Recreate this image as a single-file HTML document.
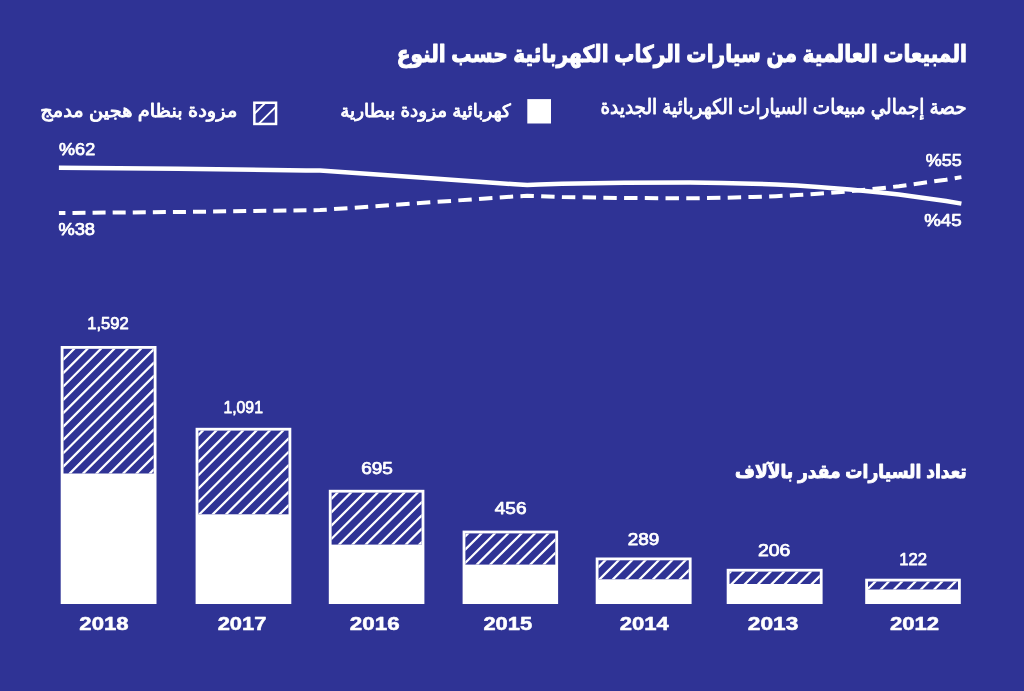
<!DOCTYPE html>
<html lang="ar">
<head>
<meta charset="utf-8">
<title>المبيعات العالمية من سيارات الركاب الكهربائية حسب النوع</title>
<style>
html,body{margin:0;padding:0;background:#2f3395;}
body{width:1024px;height:691px;overflow:hidden;position:relative;}
svg{display:block;position:absolute;left:0;top:0;}
text{font-family:"Liberation Sans","DejaVu Sans",sans-serif;fill:#fff;stroke:#fff;stroke-linejoin:round;}
.yr{font-family:"Liberation Sans","DejaVu Sans",sans-serif;font-weight:bold;}
.ar{direction:rtl;}
.b{font-weight:bold;}
</style>
</head>
<body>
<svg width="1024" height="691" viewBox="0 0 1024 691">
<rect width="1024" height="691" fill="#2f3395"/>
<text class="ar b" x="966.90" y="62.30" font-size="23.20" stroke-width="1.0" textLength="570.26" lengthAdjust="spacingAndGlyphs">المبيعات العالمية من سيارات الركاب الكهربائية حسب النوع</text>
<text class="ar" x="966.65" y="113.50" font-size="20.80" stroke-width="0.9" textLength="366.16" lengthAdjust="spacingAndGlyphs">حصة إجمالي مبيعات السيارات الكهربائية الجديدة</text>
<text class="ar" x="510.80" y="116.80" font-size="18.00" stroke-width="0.9" textLength="170.55" lengthAdjust="spacingAndGlyphs">كهربائية مزودة ببطارية</text>
<text class="ar" x="237.30" y="116.80" font-size="18.00" stroke-width="0.9" textLength="197.02" lengthAdjust="spacingAndGlyphs">مزودة بنظام هجين مدمج</text>
<text class="ar b" x="966.75" y="478.20" font-size="18.60" stroke-width="0.9" textLength="231.71" lengthAdjust="spacingAndGlyphs">تعداد السيارات مقدر بالآلاف</text>
<rect x="527.3" y="99.1" width="23.7" height="24.4" fill="#fff"/>
<rect x="254.35" y="102.75" width="21.7" height="21.2" fill="none" stroke="#fff" stroke-width="2.5"/>
<path d="M254.6 113.6 L265.8 102.4 M258.7 123.9 L276 106.6" stroke="#fff" stroke-width="1.9" fill="none"/>
<path d="M58.9 167.7 L178 168.7 L306 170.4 L320.1 170.6 L434 178.6 L486 182.3 L515 184.3 L527.2 184.9 L539 184.6 L562 183.7 L624.5 182.7 L690 182.4 L722 182.9 L752.5 183.7 L776 184.5 L797 185.6 L818 186.9 L850 189.4 L880.5 192.4 L899 194.5 L920.5 197.5 L946 201.0 L961.4 203.6" fill="none" stroke="#fff" stroke-width="4.5" stroke-linejoin="round"/>
<path d="M58.9 213.0 L178 212.0 L306 210.3 L320.1 210.1 L434 202.1 L486 198.4 L515 196.4 L527.2 195.8 L539 196.1 L562 197.0 L624.5 198.0 L690 198.3 L722 197.8 L752.5 197.0 L776 196.2 L797 195.1 L818 193.8 L850 191.3 L880.5 188.3 L899 186.2 L920.5 183.2 L946 179.7 L961.4 177.1" fill="none" stroke="#fff" stroke-width="4" stroke-dasharray="6.51 7.07 13.02 7.07 13.02 7.07 13.02 7.07 13.02 7.07 13.02 7.07 13.02 7.07 13.02 7.07 13.02 7.07 13.02 7.07 13.02 7.07 13.02 7.07 13.02 7.07 13.24 7.31 13.45 7.31 13.45 7.31 13.45 7.31 13.45 7.31 13.45 7.31 13.45 7.31 13.45 7.31 13.45 7.31 13.45 7.31 13.44 7.30 13.43 7.30 13.43 7.30 13.43 7.30 13.43 7.30 13.43 7.30 13.43 7.30 13.43 7.30 13.43 7.30 13.43 7.30 13.43 7.30 13.43 7.30 13.43 7.30 13.43 7.30 13.43 7.30 13.43 7.30 13.43 7.30 13.43 7.30 13.43 7.30 13.43 7.30 13.43 7.30 7.72 50.00" stroke-linejoin="round"/>
<text x="59.10" y="154.85" font-size="16.50" stroke-width="0.75" textLength="36.07" lengthAdjust="spacingAndGlyphs">%62</text>
<text x="58.40" y="234.95" font-size="16.50" stroke-width="0.75" textLength="36.66" lengthAdjust="spacingAndGlyphs">%38</text>
<text x="925.75" y="165.55" font-size="16.50" stroke-width="0.75" textLength="35.96" lengthAdjust="spacingAndGlyphs">%55</text>
<text x="924.20" y="226.15" font-size="16.50" stroke-width="0.75" textLength="37.51" lengthAdjust="spacingAndGlyphs">%45</text>
<g><rect x="60.70" y="346.00" width="95.80" height="258.00" fill="#fff"/><rect x="63.50" y="348.80" width="90.20" height="124.70" fill="#2f3395"/><path d="M72.61 348.80L75.79 348.80L63.50 361.09L63.50 357.91ZM85.97 348.80L89.15 348.80L63.50 374.45L63.50 371.27ZM99.33 348.80L102.51 348.80L63.50 387.81L63.50 384.63ZM112.69 348.80L115.87 348.80L63.50 401.17L63.50 397.99ZM126.05 348.80L129.23 348.80L63.50 414.53L63.50 411.35ZM139.41 348.80L142.59 348.80L63.50 427.89L63.50 424.71ZM152.77 348.80L153.70 348.80L153.70 351.05L63.50 441.25L63.50 438.07ZM153.70 361.23L153.70 364.41L63.50 454.61L63.50 451.43ZM153.70 374.59L153.70 377.77L63.50 467.97L63.50 464.79ZM153.70 387.95L153.70 391.13L71.33 473.50L68.15 473.50ZM153.70 401.31L153.70 404.49L84.69 473.50L81.51 473.50ZM153.70 414.67L153.70 417.85L98.05 473.50L94.87 473.50ZM153.70 428.03L153.70 431.21L111.41 473.50L108.23 473.50ZM153.70 441.39L153.70 444.57L124.77 473.50L121.59 473.50ZM153.70 454.75L153.70 457.93L138.13 473.50L134.95 473.50ZM153.70 468.11L153.70 471.29L151.49 473.50L148.31 473.50Z" fill="#fff"/></g>
<text x="87.25" y="329.35" font-size="16.50" stroke-width="0.75" textLength="41.44" lengthAdjust="spacingAndGlyphs">1,592</text>
<text class="yr" x="79.35" y="629.85" font-size="17.90" stroke-width="0.5" textLength="49.17" lengthAdjust="spacingAndGlyphs">2018</text>
<g><rect x="195.60" y="427.80" width="95.70" height="176.20" fill="#fff"/><rect x="198.40" y="430.60" width="90.10" height="83.70" fill="#2f3395"/><path d="M201.41 430.60L204.59 430.60L198.40 436.79L198.40 433.61ZM214.77 430.60L217.95 430.60L198.40 450.15L198.40 446.97ZM228.13 430.60L231.31 430.60L198.40 463.51L198.40 460.33ZM241.49 430.60L244.67 430.60L198.40 476.87L198.40 473.69ZM254.85 430.60L258.03 430.60L198.40 490.23L198.40 487.05ZM268.21 430.60L271.39 430.60L198.40 503.59L198.40 500.41ZM281.57 430.60L284.75 430.60L201.05 514.30L198.40 514.30L198.40 513.77ZM288.50 437.03L288.50 440.21L214.41 514.30L211.23 514.30ZM288.50 450.39L288.50 453.57L227.77 514.30L224.59 514.30ZM288.50 463.75L288.50 466.93L241.13 514.30L237.95 514.30ZM288.50 477.11L288.50 480.29L254.49 514.30L251.31 514.30ZM288.50 490.47L288.50 493.65L267.85 514.30L264.67 514.30ZM288.50 503.83L288.50 507.01L281.21 514.30L278.03 514.30Z" fill="#fff"/></g>
<text x="223.45" y="412.65" font-size="16.50" stroke-width="0.75" textLength="39.48" lengthAdjust="spacingAndGlyphs">1,091</text>
<text class="yr" x="217.65" y="629.85" font-size="17.90" stroke-width="0.5" textLength="48.68" lengthAdjust="spacingAndGlyphs">2017</text>
<g><rect x="328.80" y="489.80" width="95.60" height="114.20" fill="#fff"/><rect x="331.60" y="492.60" width="90.00" height="52.00" fill="#2f3395"/><path d="M336.11 492.60L339.29 492.60L331.60 500.29L331.60 497.11ZM349.47 492.60L352.65 492.60L331.60 513.65L331.60 510.47ZM362.83 492.60L366.01 492.60L331.60 527.01L331.60 523.83ZM376.19 492.60L379.37 492.60L331.60 540.37L331.60 537.19ZM389.55 492.60L392.73 492.60L340.73 544.60L337.55 544.60ZM402.91 492.60L406.09 492.60L354.09 544.60L350.91 544.60ZM416.27 492.60L419.45 492.60L367.45 544.60L364.27 544.60ZM421.60 500.63L421.60 503.81L380.81 544.60L377.63 544.60ZM421.60 513.99L421.60 517.17L394.17 544.60L390.99 544.60ZM421.60 527.35L421.60 530.53L407.53 544.60L404.35 544.60ZM421.60 540.71L421.60 543.89L420.89 544.60L417.71 544.60Z" fill="#fff"/></g>
<text x="361.15" y="474.25" font-size="16.50" stroke-width="0.75" textLength="31.62" lengthAdjust="spacingAndGlyphs">695</text>
<text class="yr" x="349.85" y="629.85" font-size="17.90" stroke-width="0.5" textLength="49.82" lengthAdjust="spacingAndGlyphs">2016</text>
<g><rect x="462.60" y="530.60" width="95.50" height="73.40" fill="#fff"/><rect x="465.40" y="533.40" width="89.90" height="31.20" fill="#2f3395"/><path d="M466.45 533.40L469.63 533.40L465.40 537.63L465.40 534.45ZM479.81 533.40L482.99 533.40L465.40 550.99L465.40 547.81ZM493.17 533.40L496.35 533.40L465.40 564.35L465.40 561.17ZM506.53 533.40L509.71 533.40L478.51 564.60L475.33 564.60ZM519.89 533.40L523.07 533.40L491.87 564.60L488.69 564.60ZM533.25 533.40L536.43 533.40L505.23 564.60L502.05 564.60ZM546.61 533.40L549.79 533.40L518.59 564.60L515.41 564.60ZM555.30 538.07L555.30 541.25L531.95 564.60L528.77 564.60ZM555.30 551.43L555.30 554.61L545.31 564.60L542.13 564.60Z" fill="#fff"/></g>
<text x="494.80" y="514.25" font-size="16.50" stroke-width="0.75" textLength="31.71" lengthAdjust="spacingAndGlyphs">456</text>
<text class="yr" x="483.45" y="629.85" font-size="17.90" stroke-width="0.5" textLength="48.66" lengthAdjust="spacingAndGlyphs">2015</text>
<g><rect x="595.70" y="557.50" width="95.90" height="46.50" fill="#fff"/><rect x="598.50" y="560.30" width="90.30" height="19.00" fill="#2f3395"/><path d="M603.71 560.30L606.89 560.30L598.50 568.69L598.50 565.51ZM617.07 560.30L620.25 560.30L601.25 579.30L598.50 579.30L598.50 578.87ZM630.43 560.30L633.61 560.30L614.61 579.30L611.43 579.30ZM643.79 560.30L646.97 560.30L627.97 579.30L624.79 579.30ZM657.15 560.30L660.33 560.30L641.33 579.30L638.15 579.30ZM670.51 560.30L673.69 560.30L654.69 579.30L651.51 579.30ZM683.87 560.30L687.05 560.30L668.05 579.30L664.87 579.30ZM688.80 568.73L688.80 571.91L681.41 579.30L678.23 579.30Z" fill="#fff"/></g>
<text x="627.65" y="545.15" font-size="16.50" stroke-width="0.75" textLength="31.58" lengthAdjust="spacingAndGlyphs">289</text>
<text class="yr" x="619.85" y="629.85" font-size="17.90" stroke-width="0.5" textLength="49.05" lengthAdjust="spacingAndGlyphs">2014</text>
<g><rect x="726.70" y="568.80" width="95.90" height="35.20" fill="#fff"/><rect x="729.50" y="571.60" width="90.30" height="12.40" fill="#2f3395"/><path d="M729.50 571.60L732.33 571.60L729.50 574.43ZM742.51 571.60L745.69 571.60L733.29 584.00L730.11 584.00ZM755.87 571.60L759.05 571.60L746.65 584.00L743.47 584.00ZM769.23 571.60L772.41 571.60L760.01 584.00L756.83 584.00ZM782.59 571.60L785.77 571.60L773.37 584.00L770.19 584.00ZM795.95 571.60L799.13 571.60L786.73 584.00L783.55 584.00ZM809.31 571.60L812.49 571.60L800.09 584.00L796.91 584.00ZM819.80 574.47L819.80 577.65L813.45 584.00L810.27 584.00Z" fill="#fff"/></g>
<text x="758.00" y="555.55" font-size="16.50" stroke-width="0.75" textLength="32.42" lengthAdjust="spacingAndGlyphs">206</text>
<text class="yr" x="747.85" y="629.85" font-size="17.90" stroke-width="0.5" textLength="50.52" lengthAdjust="spacingAndGlyphs">2013</text>
<g><rect x="865.20" y="578.70" width="95.60" height="25.30" fill="#fff"/><rect x="868.00" y="581.50" width="90.00" height="8.00" fill="#2f3395"/><path d="M873.81 581.50L876.99 581.50L868.99 589.50L868.00 589.50L868.00 587.31ZM887.17 581.50L890.35 581.50L882.35 589.50L879.17 589.50ZM900.53 581.50L903.71 581.50L895.71 589.50L892.53 589.50ZM913.89 581.50L917.07 581.50L909.07 589.50L905.89 589.50ZM927.25 581.50L930.43 581.50L922.43 589.50L919.25 589.50ZM940.61 581.50L943.79 581.50L935.79 589.50L932.61 589.50ZM953.97 581.50L957.15 581.50L949.15 589.50L945.97 589.50Z" fill="#fff"/></g>
<text x="899.30" y="565.45" font-size="16.50" stroke-width="0.75" textLength="27.77" lengthAdjust="spacingAndGlyphs">122</text>
<text class="yr" x="889.95" y="629.85" font-size="17.90" stroke-width="0.5" textLength="49.22" lengthAdjust="spacingAndGlyphs">2012</text>
</svg>
</body>
</html>
